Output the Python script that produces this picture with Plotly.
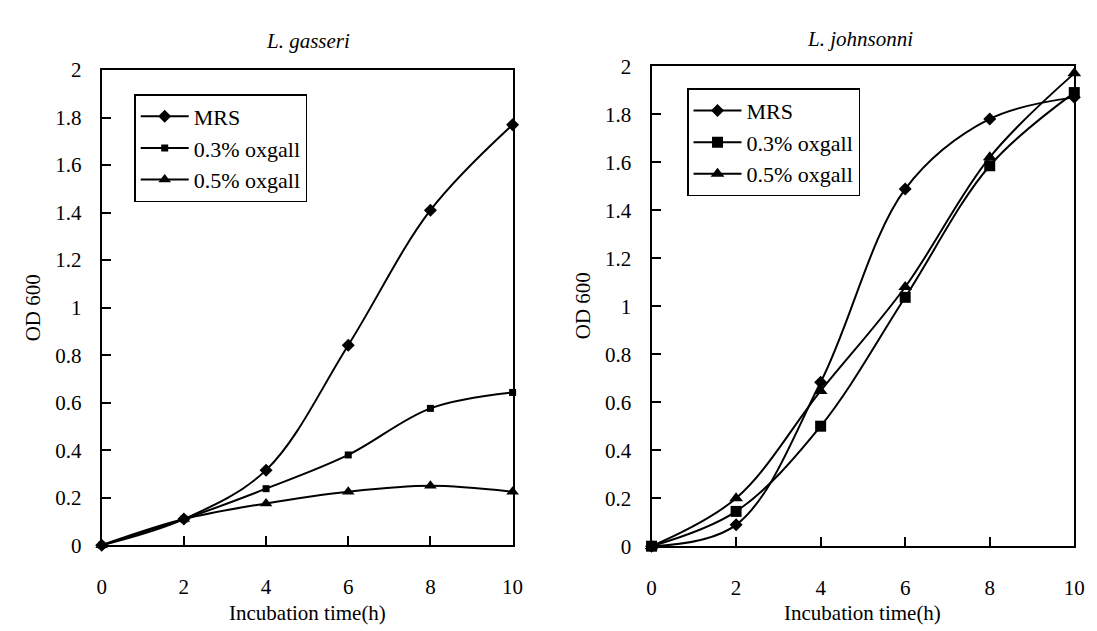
import plotly.graph_objects as go

W, H = 1097, 631

hours = [0, 2, 4, 6, 8, 10]
series_names = ["MRS", "0.3% oxgall", "0.5% oxgall"]

gasseri_mrs = [0.0, 0.11, 0.316, 0.842, 1.41, 1.77]
gasseri_03 = [0.0, 0.11, 0.238, 0.38, 0.576, 0.643]
gasseri_05 = [0.0, 0.11, 0.176, 0.225, 0.25, 0.225]

johnsonni_mrs = [0.0, 0.089, 0.683, 1.488, 1.78, 1.87]
johnsonni_03 = [0.0, 0.145, 0.50, 1.037, 1.585, 1.89]
johnsonni_05 = [0.0, 0.20, 0.647, 1.08, 1.62, 1.97]

y_ticks = [0, 0.2, 0.4, 0.6, 0.8, 1.0, 1.2, 1.4, 1.6, 1.8, 2.0]
y_ticktext = ["0", "0.2", "0.4", "0.6", "0.8", "1", "1.2", "1.4", "1.6", "1.8", "2"]
x_ticks = [0, 2, 4, 6, 8, 10]

titles = ["L. gasseri", "L. johnsonni"]
x_title = "Incubation time(h)"
y_title = "OD 600"

FONT = "Liberation Serif"

fig = go.Figure()

left_sizes = [10, 7, 11]
right_sizes = [10, 11, 12]
symbols = ["diamond", "square", "triangle-up"]

for name, vals, sym, sz in zip(series_names, [gasseri_mrs, gasseri_03, gasseri_05], symbols, left_sizes):
    fig.add_trace(go.Scatter(
        x=hours, y=vals, name=name, mode="lines+markers",
        line=dict(color="black", width=2, shape="spline", smoothing=1.0),
        marker=dict(symbol=sym, size=sz, color="black"),
        xaxis="x", yaxis="y", legend="legend", cliponaxis=False,
    ))

for name, vals, sym, sz in zip(series_names, [johnsonni_mrs, johnsonni_03, johnsonni_05], symbols, right_sizes):
    fig.add_trace(go.Scatter(
        x=hours, y=vals, name=name, mode="lines+markers",
        line=dict(color="black", width=2, shape="spline", smoothing=1.0),
        marker=dict(symbol=sym, size=sz, color="black"),
        xaxis="x2", yaxis="y2", legend="legend2", cliponaxis=False,
    ))

def px_x(p):
    return p / W

def px_y(p):
    return 1 - p / H

axis_common = dict(
    showgrid=False, zeroline=False, showline=True, linecolor="black", linewidth=2,
    mirror=True, ticks="inside", ticklen=9, tickwidth=1.5, tickcolor="black",
    tickfont=dict(family=FONT, size=21, color="black"),
)

legend_common = dict(
    xanchor="left", yanchor="top", bordercolor="black", borderwidth=1.5,
    bgcolor="white", font=dict(family=FONT, size=22, color="black"),
    itemwidth=48, tracegroupgap=0,
)

fig.update_layout(
    width=W, height=H,
    margin=dict(l=0, r=0, t=0, b=0),
    paper_bgcolor="white", plot_bgcolor="white",
    font=dict(family=FONT, color="black"),
    xaxis=dict(domain=[px_x(90), px_x(507)], range=[0, 10], tickvals=x_ticks,
               anchor="y", ticklabelstandoff=22, **axis_common),
    yaxis=dict(domain=[px_y(546), px_y(52)], range=[0, 2], tickvals=y_ticks,
               ticktext=y_ticktext, anchor="x", ticklabelstandoff=14, **axis_common),
    xaxis2=dict(domain=[px_x(648), px_x(1077)], range=[0, 10], tickvals=x_ticks,
                anchor="y2", ticklabelstandoff=22, **axis_common),
    yaxis2=dict(domain=[px_y(547), px_y(48)], range=[0, 2], tickvals=y_ticks,
                ticktext=y_ticktext, anchor="x2", ticklabelstandoff=14, **axis_common),
    legend=dict(x=px_x(123), y=px_y(77), **legend_common),
    legend2=dict(x=px_x(684), y=px_y(71), **legend_common),
    showlegend=True,
)

annotations = [
    dict(text="<i>" + titles[0] + "</i>", x=px_x(299), y=px_y(22)),
    dict(text="<i>" + titles[1] + "</i>", x=px_x(860), y=px_y(20)),
    dict(text=x_title, x=px_x(299), y=px_y(616)),
    dict(text=x_title, x=px_x(862), y=px_y(616)),
    dict(text=y_title, x=px_x(20), y=px_y(299), textangle=-90),
    dict(text=y_title, x=px_x(578), y=px_y(297), textangle=-90),
]
for a in annotations:
    fig.add_annotation(xref="paper", yref="paper", showarrow=False,
                       xanchor="center", yanchor="middle",
                       font=dict(family=FONT, size=21, color="black"), **a)

fig.write_html("out.html")
